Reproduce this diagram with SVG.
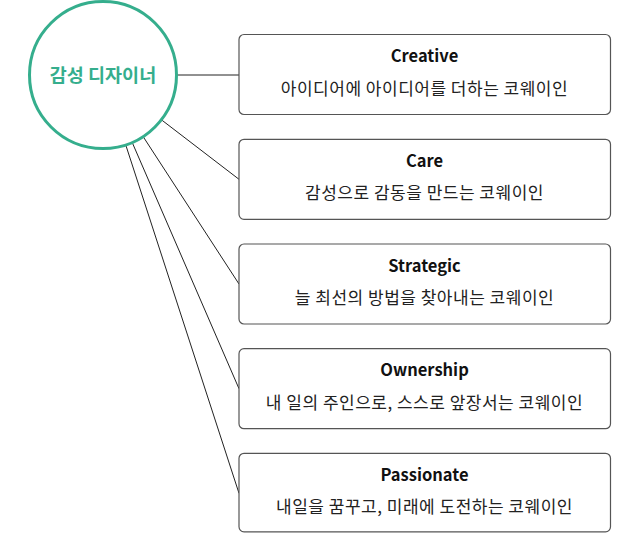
<svg xmlns="http://www.w3.org/2000/svg" width="619" height="533" viewBox="0 0 619 533">
<style>
.box{fill:#fff;stroke:#555;stroke-width:1.2}
.t{font-family:"Noto Sans CJK KR","Noto Sans",sans-serif;font-size:16.5px;font-weight:bold;fill:#111;text-anchor:middle}
.s{font-family:"Noto Sans CJK KR","Noto Sans",sans-serif;font-size:17px;letter-spacing:0.5px;fill:#222;text-anchor:middle}
.c{fill:none;stroke:#222;stroke-width:1}
</style>
<rect width="619" height="533" fill="#fff"/>
<g id="connectors">
<line class="c" x1="177" y1="75" x2="239" y2="75"/>
<line class="c" x1="161.7" y1="120" x2="239" y2="179.3"/>
<line class="c" x1="143.4" y1="137" x2="239" y2="284"/>
<line class="c" x1="132.4" y1="142.9" x2="239" y2="388.7"/>
<line class="c" x1="125.9" y1="145.4" x2="239" y2="493.3"/>
</g>
<g id="center">
<circle cx="103" cy="75" r="73.5" fill="#fff" stroke="#35ae8d" stroke-width="3"/>
<text x="103" y="81.5" style="font-family:'Noto Sans CJK KR','Noto Sans',sans-serif;font-size:18.5px;font-weight:bold;fill:#35ae8d;text-anchor:middle">감성 디자이너</text>
</g>
<g id="creative">
<rect class="box" x="239" y="34.5" width="371.5" height="80" rx="5"/>
<text class="t" x="424.5" y="62">Creative</text>
<text class="s" x="424.5" y="94.5">아이디어에 아이디어를 더하는 코웨이인</text>
</g>
<g id="care">
<rect class="box" x="239" y="139.3" width="371.5" height="80" rx="5"/>
<text class="t" x="424.5" y="166.8">Care</text>
<text class="s" x="424.5" y="199.3">감성으로 감동을 만드는 코웨이인</text>
</g>
<g id="strategic">
<rect class="box" x="239" y="244" width="371.5" height="80" rx="5"/>
<text class="t" x="424.5" y="271.5">Strategic</text>
<text class="s" x="424.5" y="304">늘 최선의 방법을 찾아내는 코웨이인</text>
</g>
<g id="ownership">
<rect class="box" x="239" y="348.7" width="371.5" height="80" rx="5"/>
<text class="t" x="424.5" y="376.2">Ownership</text>
<text class="s" x="424.5" y="408.7">내 일의 주인으로, 스스로 앞장서는 코웨이인</text>
</g>
<g id="passionate">
<rect class="box" x="239" y="453.3" width="371.5" height="78.5" rx="5"/>
<text class="t" x="424.5" y="480.8">Passionate</text>
<text class="s" x="424.5" y="513.3">내일을 꿈꾸고, 미래에 도전하는 코웨이인</text>
</g>
</svg>
